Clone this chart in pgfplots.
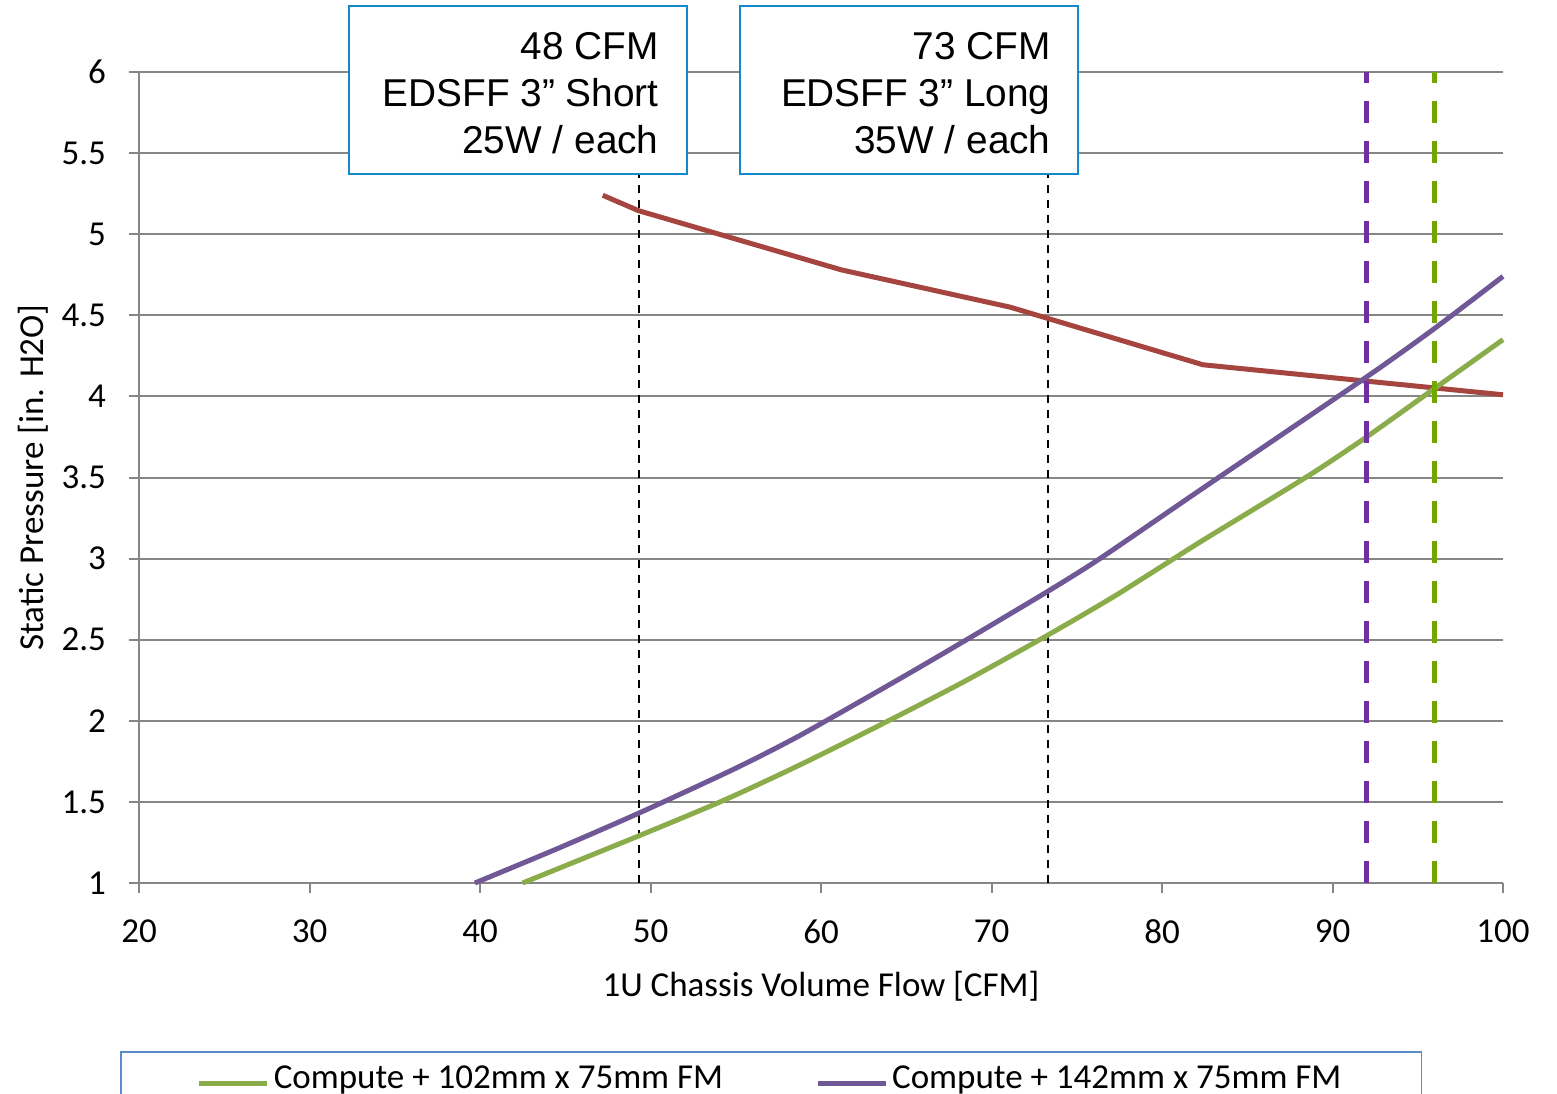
\documentclass[border=0pt]{standalone}
\usepackage{fontspec}
\setmainfont{Carlito}
\newfontfamily\boxfont{Liberation Sans}
\usepackage{pgfplots}
\pgfplotsset{compat=1.18}
\definecolor{redc}{RGB}{166,68,64}
\definecolor{purc}{RGB}{112,88,150}
\definecolor{grnc}{RGB}{138,172,74}
\definecolor{purd}{RGB}{112,48,160}
\definecolor{grnd}{RGB}{112,168,0}
\definecolor{gridc}{RGB}{134,134,134}
\definecolor{boxc}{RGB}{20,136,200}
\definecolor{legc}{RGB}{90,140,200}
\begin{document}
\begin{tikzpicture}
\begin{axis}[
  at={(69.5pt,105pt)}, anchor=south west,
  scale only axis, width=682pt, height=405.5pt,
  xmin=20, xmax=100, ymin=1, ymax=6,
  xtick={20,30,40,50,60,70,80,90,100},
  ytick={1,1.5,2,2.5,3,3.5,4,4.5,5,5.5,6},
  yticklabels={1,1.5,2,2.5,3,3.5,4,4.5,5,5.5,6},
  axis x line*=bottom, axis y line*=left,
  axis line style={gridc, line width=1pt, -},
  ymajorgrids, grid style={gridc, line width=1pt},
  tick style={gridc, line width=1pt},
  tick align=outside, major tick length=5pt,
  /pgf/number format/assume math mode=true,
  tick label style={font=\fontsize{17.5}{20}\selectfont, black},
  xticklabel style={yshift=-10pt},
  yticklabel style={xshift=-8pt},
  xlabel={1U Chassis Volume Flow [CFM]},
  ylabel={Static Pressure [in. H2O]},
  label style={font=\fontsize{17.5}{20}\selectfont},
  xlabel style={at={(axis description cs:0.5,-0.127)}, anchor=center},
  ylabel style={at={(axis description cs:-0.0777,0.5)}, anchor=center},
  clip=false,
  legend columns=2,
  legend style={at={(-0.0139,-0.2072)}, anchor=north west, draw=legc, line width=0.75pt,
    font=\fontsize{17.5}{20}\selectfont, inner xsep=38pt, inner ysep=5pt,
    /tikz/every even column/.append style={column sep=44pt}},
  legend image code/.code={\draw[#1] (0pt,-2.5pt) -- (34pt,-2.5pt);},
]
\addplot[black, line width=1pt, dash pattern=on 4pt off 3.5pt, forget plot] coordinates {(49.3,1) (49.3,6)};
\addplot[black, line width=1pt, dash pattern=on 4pt off 3.5pt, forget plot] coordinates {(73.3,1) (73.3,6)};
\addplot[redc, line width=2.5pt, forget plot] coordinates {
  (47.2,5.24) (49.3,5.145) (61.2,4.78) (71.1,4.55) (82.4,4.195) (100,4.01)};
\addplot[grnc, line width=2.5pt, smooth, tension=0.4] coordinates {
  (42.5,1.0) (49.3,1.29) (54.3,1.51) (58.8,1.73) (64.05,2.005) (68.54,2.25)
  (73.33,2.53) (77.33,2.776) (82.2,3.10) (88.5,3.505) (92,3.75) (96,4.05) (100,4.35)};
\addlegendentry{Compute + 102mm x 75mm FM}
\addplot[purc, line width=2.5pt, smooth, tension=0.4] coordinates {
  (39.7,1.0) (44.5,1.21) (49.3,1.43) (54.85,1.70) (58.77,1.91) (64.63,2.26) (68.54,2.50)
  (73.33,2.80) (76.36,3.00) (82.2,3.42) (92.0,4.12) (96,4.42) (100,4.74)};
\addlegendentry{Compute + 142mm x 75mm FM}
\addplot[purd, line width=2.5pt, dash pattern=on 11pt off 9pt, forget plot] coordinates {(92,1) (92,6)};
\addplot[grnd, line width=2.5pt, dash pattern=on 11pt off 9pt, forget plot] coordinates {(96,1) (96,6)};
\end{axis}
\draw[boxc, line width=1pt, fill=white] (174.5pt,459.5pt) rectangle (343.5pt,543.5pt);
\draw[boxc, line width=1pt, fill=white] (370pt,459.5pt) rectangle (539pt,543.5pt);
\begin{scope}[every node/.style={anchor=base east, inner sep=0pt, font=\boxfont\fontsize{19.4}{22}\selectfont}]
\node at (329.5pt,516.5pt) {48 CFM};
\node at (329.5pt,493pt) {EDSFF 3” Short};
\node at (329.5pt,469.5pt) {25W / each};
\node at (525.5pt,516.5pt) {73 CFM};
\node at (525.5pt,493pt) {EDSFF 3” Long};
\node at (525.5pt,469.5pt) {35W / each};
\end{scope}
\pgfresetboundingbox
\path[use as bounding box] (0,0) rectangle (778.5pt,546.5pt);
\end{tikzpicture}
\end{document}
